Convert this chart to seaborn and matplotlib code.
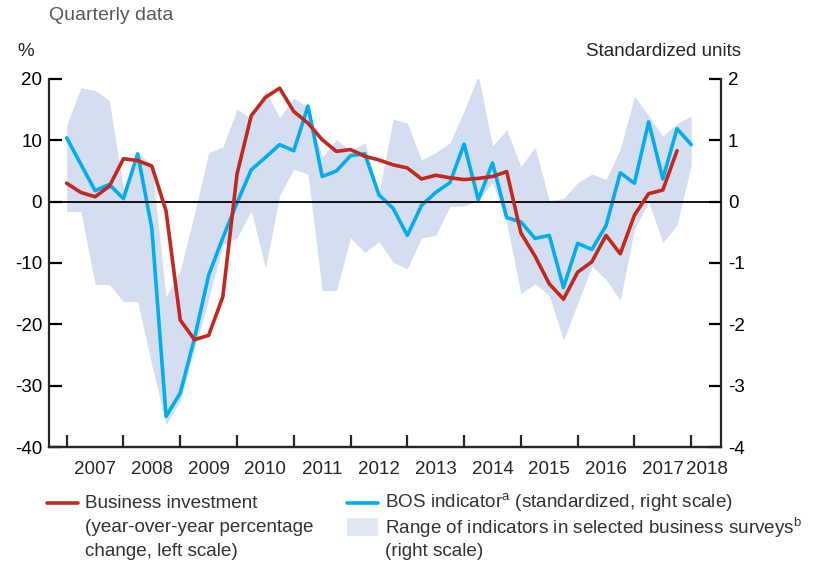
import seaborn as sns
import matplotlib.pyplot as plt
import pandas as pd
from matplotlib.lines import Line2D
from matplotlib.patches import Rectangle

# quarterly data, 2007Q1 .. 2018Q1 (index 0 = 2007Q1)
years = ['2007', '2008', '2009', '2010', '2011', '2012', '2013', '2014',
         '2015', '2016', '2017', '2018']

# business investment, y/y % change (left scale), 2007Q1..2017Q4
business_investment = [3.0, 1.5, 0.8, 2.5, 7.0, 6.7, 5.8, -1.5,
                       -19.3, -22.5, -21.8, -15.5, 4.5, 14.0, 17.0, 18.5,
                       14.7, 12.8, 10.1, 8.2, 8.5, 7.4, 6.8, 6.0,
                       5.5, 3.7, 4.3, 3.9, 3.6, 3.8, 4.1, 4.9,
                       -5.1, -8.9, -13.4, -15.9, -11.5, -9.8, -5.5, -8.5,
                       -2.2, 1.3, 1.9, 8.3]

# BOS indicator, standardized (right scale), 2007Q1..2018Q1
bos_indicator = [1.04, 0.61, 0.18, 0.28, 0.05, 0.78, -0.44, -3.50,
                 -3.12, -2.23, -1.20, -0.59, -0.02, 0.52, 0.72, 0.93,
                 0.83, 1.56, 0.41, 0.50, 0.75, 0.78, 0.11, -0.11,
                 -0.55, -0.06, 0.15, 0.31, 0.94, 0.03, 0.63, -0.26,
                 -0.33, -0.60, -0.55, -1.40, -0.68, -0.78, -0.39, 0.47,
                 0.30, 1.30, 0.37, 1.19, 0.93]

# range of indicators in selected business surveys (right scale)
survey_high = [1.25, 1.86, 1.81, 1.65, 0.20, 0.80, 0.60, -1.55,
               -1.12, -0.20, 0.80, 0.89, 1.51, 1.35, 1.81, 1.37,
               1.69, 1.54, 0.73, 1.01, 0.83, 0.96, 0.13, 1.35,
               1.28, 0.68, 0.80, 0.96, 1.48, 2.06, 0.91, 1.17,
               0.57, 0.89, 0.02, 0.05, 0.31, 0.45, 0.36, 0.86,
               1.72, 1.40, 1.07, 1.27, 1.40]
survey_low = [-0.16, -0.16, -1.35, -1.35, -1.63, -1.63, -2.67, -3.63,
              -3.25, -2.40, -1.60, -0.70, -0.59, -0.15, -1.08, 0.10,
              0.53, 0.45, -1.45, -1.45, -0.59, -0.83, -0.65, -0.99,
              -1.09, -0.59, -0.55, -0.08, -0.07, 0.02, 0.31, -0.35,
              -1.50, -1.34, -1.53, -2.26, -1.66, -1.05, -1.27, -1.61,
              -0.45, 0.00, -0.67, -0.38, 0.60]

RED = '#C3281F'
BLUE = '#00AEEF'
BAND = '#D4DEF0'

sns.set_style('ticks')
plt.rcParams['font.family'] = ['Liberation Sans', 'DejaVu Sans']
plt.rcParams['axes.unicode_minus'] = False
plt.rcParams['mathtext.fontset'] = 'custom'
plt.rcParams['mathtext.rm'] = 'Liberation Sans'

inv = pd.DataFrame({'q': range(len(business_investment)), 'v': business_investment})
bos = pd.DataFrame({'q': range(len(bos_indicator)), 'v': bos_indicator})

fig = plt.figure(figsize=(8.16, 5.61), dpi=100)
ax = fig.add_axes([0.060, 0.2032, 0.8236, 0.656])
ax2 = ax.twinx()

# right scale: survey range + BOS indicator
ax2.fill_between(bos['q'], survey_low, survey_high, color=BAND, lw=0, zorder=1)
sns.lineplot(data=bos, x='q', y='v', ax=ax2, color=BLUE, lw=2.6, zorder=3)

# left scale: business investment
ax.axhline(0, color='black', lw=1.3, zorder=2)
sns.lineplot(data=inv, x='q', y='v', ax=ax, color=RED, lw=2.6, zorder=4)

ax.set_zorder(ax2.get_zorder() + 1)
ax.patch.set_visible(False)

ax.set_xlim(-1.25, 46.1)
ax.set_ylim(-40, 20)
ax2.set_ylim(-4, 2)
ax.set_yticks(range(-40, 21, 10))
ax2.set_yticks(range(-4, 3))
ax.set_xticks(range(0, 45, 4))
ax.set_xticklabels([])
ax.set_xticks([2 + 4 * i for i in range(11)] + [45.1], minor=True)
ax.set_xticklabels(years, minor=True)

for a in (ax, ax2):
    a.set_xlabel('')
    a.set_ylabel('')
    for s in a.spines.values():
        s.set_linewidth(1.6)
    a.spines['top'].set_visible(False)
    a.tick_params(axis='y', direction='in', length=9, width=1.6,
                  labelsize=13.5, pad=5, colors='black')
ax.spines['right'].set_visible(False)
ax2.spines['left'].set_visible(False)
ax.tick_params(axis='x', which='major', direction='in', length=9, width=1.6)
ax.tick_params(axis='x', which='minor', length=0, labelsize=13.5, pad=10)

fig.text(49 / 816, 1 - 16 / 561, 'Quarterly data', fontsize=14, color='#595959',
         ha='left', va='center')
fig.text(17 / 816, 1 - 52 / 561, '%', fontsize=13.5, ha='left', va='center')
fig.text(741 / 816, 1 - 52 / 561, 'Standardized units', fontsize=13.5,
         ha='right', va='center')

# legend
fs = 13.6
tc = '#333333'
fig.add_artist(Line2D([47 / 816, 78 / 816], [1 - 503 / 561] * 2, color=RED, lw=2.6))
fig.text(85 / 816, 1 - 503 / 561,
         'Business investment', fontsize=fs, color=tc, va='center')
fig.text(85 / 816, 1 - 527 / 561,
         '(year-over-year percentage', fontsize=fs, color=tc, va='center')
fig.text(85 / 816, 1 - 551 / 561,
         'change, left scale)', fontsize=fs, color=tc, va='center')
fig.add_artist(Line2D([347 / 816, 378 / 816], [1 - 503 / 561] * 2, color=BLUE, lw=2.6))
fig.text(385 / 816, 1 - 503 / 561,
         r'BOS indicator$^{\mathregular{a}}$ (standardized, right scale)',
         fontsize=fs, color=tc, va='center')
fig.add_artist(Rectangle((347 / 816, 1 - 536 / 561), 31 / 816, 18 / 561,
                         color='#E1E8F4', lw=0, transform=fig.transFigure))
fig.text(385 / 816, 1 - 528 / 561,
         r'Range of indicators in selected business surveys$^{\mathregular{b}}$',
         fontsize=fs, color=tc, va='center')
fig.text(385 / 816, 1 - 551 / 561,
         '(right scale)', fontsize=fs, color=tc, va='center')

fig.savefig('out.png', dpi=100)
